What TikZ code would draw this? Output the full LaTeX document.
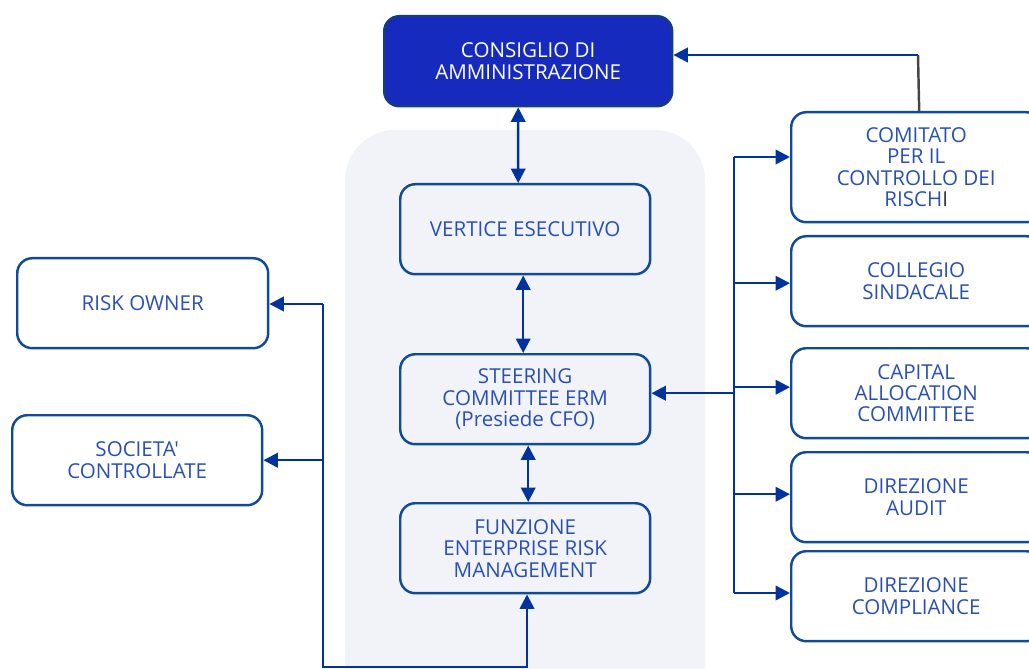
\documentclass[tikz,border=0pt]{standalone}
\usepackage{fontspec}
\newfontfamily\osans{Open Sans}
\usetikzlibrary{arrows.meta}
\definecolor{cdafill}{RGB}{22,42,190}
\definecolor{cdaborder}{RGB}{20,60,130}
\definecolor{boxborder}{RGB}{15,75,150}
\definecolor{txtblue}{RGB}{40,80,180}
\definecolor{lineblue}{RGB}{0,50,160}
\definecolor{panelfill}{RGB}{242,243,249}
\definecolor{graylink}{RGB}{70,70,70}
\tikzset{
  box/.style={draw=boxborder, line width=1.4pt, rounded corners=0.3cm, align=center,
    text=txtblue, font=\osans\fontsize{11.7}{12.2}\selectfont, inner sep=0pt, anchor=north west,
    minimum width=5cm, minimum height=1.8cm},
  conn/.style={draw=lineblue, line width=1.4pt},
  tip/.style={-{Triangle[length=0.29cm,width=0.29cm]}},
  tips/.style={{Triangle[length=0.29cm,width=0.29cm]}-{Triangle[length=0.29cm,width=0.29cm]}}
}
\begin{document}
\begin{tikzpicture}[x=0.02cm,y=-0.02cm]
\useasboundingbox (0,0) rectangle (1029,669);
\fill[panelfill, rounded corners=1cm] (345,130) rectangle (705,730);
\node[box, draw=cdaborder, fill=cdafill, text=white, minimum width=5.76cm] (cda) at (383,15) {CONSIGLIO DI\\AMMINISTRAZIONE};
\node[box] (ve) at (399,183) {VERTICE ESECUTIVO};
\node[box] (sc) at (399,353) {STEERING\\COMMITTEE ERM\\(Presiede CFO)};
\node[box] (erm) at (399,502) {FUNZIONE\\ENTERPRISE RISK\\MANAGEMENT};
\node[box, minimum width=5.02cm] (ro) at (16,257) {RISK OWNER};
\node[box] (soc) at (11,414) {SOCIETA'\\CONTROLLATE};
\node[box, fill=white, minimum height=2.2cm] (com) at (790,111) {COMITATO\\PER IL\\CONTROLLO DEI\\RISCH{\color{black!80}I}};
\node[box, fill=white] (col) at (790,235) {COLLEGIO\\SINDACALE};
\node[box, fill=white] (cap) at (790,347) {CAPITAL\\ALLOCATION\\COMMITTEE};
\node[box, fill=white] (aud) at (790,451) {DIREZIONE\\AUDIT};
\node[box, fill=white] (cmp) at (790,550) {DIREZIONE\\COMPLIANCE};
% vertical chain
\draw[conn, tips] ([xshift=-0.2cm]cda.south) -- ([xshift=-0.14cm]ve.north);
\draw[conn, tips] ([xshift=-0.04cm]ve.south) -- ([xshift=-0.04cm]sc.north);
\draw[conn, tips] ([xshift=0.06cm]sc.south) -- ([xshift=0.06cm]erm.south |- erm.north);
% comitato to cda
\coordinate (k1) at (918,55);
\draw[graylink, line width=1.4pt] ([xshift=0.06cm]com.north) -- (k1);
\draw[conn, tip] (k1) -- (k1 -| cda.east);
% right bus
\coordinate (bt) at (734,157);
\coordinate (bb) at (734,593);
\draw[conn] (bt) -- (bb);
\draw[conn, tip] (bt) -- (bt -| com.west);
\draw[conn, tip] ([yshift=-0.04cm]col.west -| bt) -- ([yshift=-0.04cm]col.west);
\draw[conn, tip] ([yshift=0.12cm]cap.west -| bt) -- ([yshift=0.12cm]cap.west);
\draw[conn, tip] ([yshift=0.06cm]aud.west -| bt) -- ([yshift=0.06cm]aud.west);
\draw[conn, tip] (bb) -- (bb -| cmp.west);
\draw[conn, tip] ([yshift=0.12cm]sc.east -| bt) -- ([yshift=0.12cm]sc.east);
% bottom loop
\coordinate (lt) at (323,304);
\coordinate (lb) at (323,667);
\coordinate (rb) at (527,667);
\draw[conn, tip] (lt) -- (lb) -- (rb) -- (rb |- erm.south);
\draw[conn, tip] (lt) -- (lt -| ro.east);
\draw[conn, tip] (soc.east -| lt) -- (soc.east);
\end{tikzpicture}
\end{document}
